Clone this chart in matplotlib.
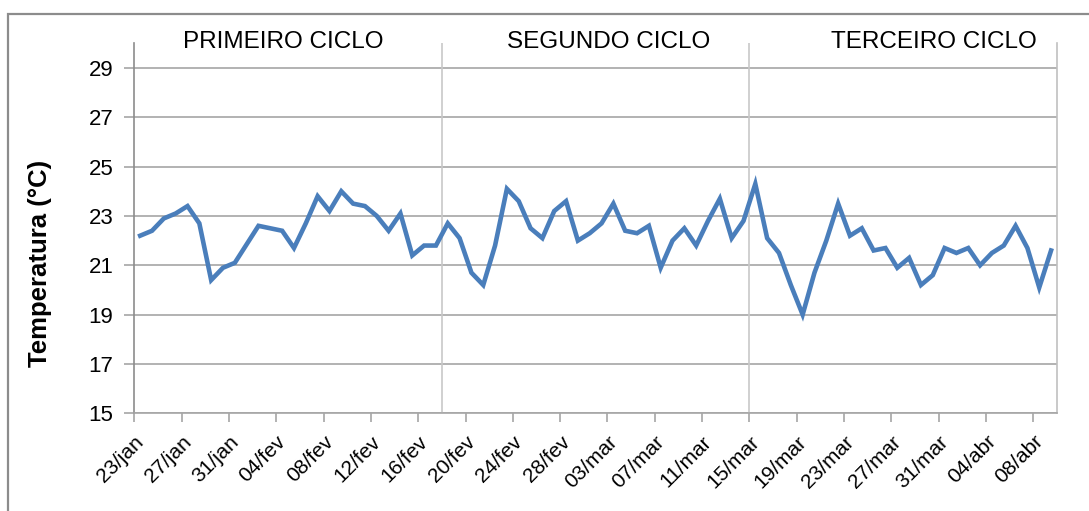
import numpy as np
import pandas as pd
import matplotlib
matplotlib.use("Agg")
import matplotlib.pyplot as plt
import matplotlib.dates as mdates
from matplotlib.patches import Rectangle
from matplotlib.transforms import ScaledTranslation

plt.rcParams['font.family'] = ['Liberation Sans', 'DejaVu Sans']

# daily mean temperature, 23/jan/2012 .. 09/abr/2012
temps = [22.2, 22.4, 22.9, 23.1, 23.4, 22.7, 20.4, 20.9, 21.1, 21.85,
         22.6, 22.5, 22.4, 21.7, 22.7, 23.8, 23.2, 24.0, 23.5, 23.4,
         23.0, 22.4, 23.1, 21.4, 21.8, 21.8, 22.7, 22.1, 20.7, 20.2,
         21.8, 24.1, 23.6, 22.5, 22.1, 23.2, 23.6, 22.0, 22.3, 22.7,
         23.5, 22.4, 22.3, 22.6, 20.9, 22.0, 22.5, 21.8, 22.8, 23.7,
         22.1, 22.8, 24.3, 22.1, 21.5, 20.2, 19.0, 20.7, 22.0, 23.5,
         22.2, 22.5, 21.6, 21.7, 20.9, 21.3, 20.2, 20.6, 21.7, 21.5,
         21.7, 21.0, 21.5, 21.8, 22.6, 21.7, 20.1, 21.6]
dates = pd.date_range('2012-01-23', periods=len(temps), freq='D')

tick_labels = ['23/jan', '27/jan', '31/jan', '04/fev', '08/fev', '12/fev',
               '16/fev', '20/fev', '24/fev', '28/fev', '03/mar', '07/mar',
               '11/mar', '15/mar', '19/mar', '23/mar', '27/mar', '31/mar',
               '04/abr', '08/abr']
cycle_names = ['PRIMEIRO CICLO', 'SEGUNDO CICLO', 'TERCEIRO CICLO']
cycle_starts = ['2012-02-18', '2012-03-15']
yticks = [15, 17, 19, 21, 23, 25, 27, 29]

fig = plt.figure(figsize=(10.89, 5.11), dpi=100)
ax = fig.add_axes([0.1233, 0.1912, 0.9706 - 0.1233, 0.9153 - 0.1912])

# outer frame of the chart
fig.patches.append(Rectangle((8 / 1089, -0.1), 1.2, 1 - 14 / 511 + 0.1,
                             transform=fig.transFigure, fill=False,
                             edgecolor='#8c8c8c', linewidth=1.6))

x = mdates.date2num(dates) + 0.5
ax.plot(x, temps, color='#4a7ebb', linewidth=3.3, solid_joinstyle='miter',
        zorder=3)

ax.set_ylim(15, 30)
ax.set_yticks(yticks)
ax.set_xlim(mdates.date2num(dates[0]), mdates.date2num(dates[-1]) + 1)
ax.set_xticks(mdates.date2num(dates[::4]))
ax.set_xticklabels(tick_labels, rotation=45, ha='right', va='top',
                   rotation_mode='anchor')
for lab in ax.get_xticklabels():
    lab.set_transform(lab.get_transform() +
                      ScaledTranslation(10 / 100, 0, fig.dpi_scale_trans))

ax.yaxis.grid(True, color='#a6a6a6', linewidth=1.2)
ax.set_axisbelow(True)
for d in cycle_starts:
    ax.axvline(mdates.date2num(pd.Timestamp(d)), color='#c8c8c8',
               linewidth=1.2, zorder=1)

ax.spines['top'].set_visible(False)
ax.spines['left'].set_color('#8c8c8c')
ax.spines['bottom'].set_color('#a6a6a6')
ax.spines['right'].set_color('#c0c0c0')
for s in ax.spines.values():
    s.set_linewidth(1.2)

ax.tick_params(axis='y', direction='out', length=7, width=1.2,
               color='#a6a6a6', labelsize=16, pad=8)
ax.tick_params(axis='x', direction='out', length=6.5, width=1.2,
               color='#a6a6a6', labelsize=15, pad=7)

ax.set_ylabel('Temperatura (°C)', fontsize=18.5, fontweight='bold')
ax.yaxis.set_label_coords(-0.089, 0.405)

for xc, name in zip([0.1612, 0.5145, 0.8667], cycle_names):
    ax.text(xc, 1.004, name, transform=ax.transAxes, ha='center',
            va='center', fontsize=17.5, color='black')

fig.savefig('out.png', dpi=100)
